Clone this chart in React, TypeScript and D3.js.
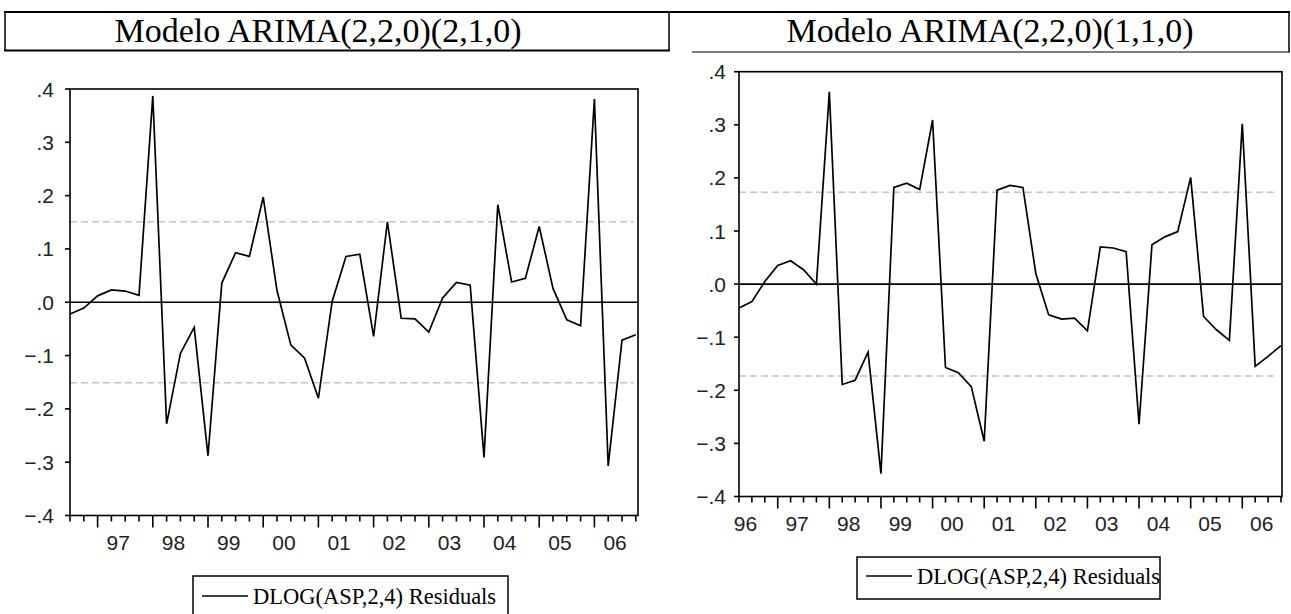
import React from "react";
import * as d3 from "d3";

// ---- data ----
const leftTitle = "Modelo ARIMA(2,2,0)(2,1,0)";
const rightTitle = "Modelo ARIMA(2,2,0)(1,1,0)";
const legendLabel = "DLOG(ASP,2,4) Residuals";

// quarterly residuals, left model starts 1996Q3
const leftStart = 1996.5;
const leftResiduals = [
  -0.022, -0.011, 0.012, 0.023, 0.021, 0.013, 0.387, -0.228, -0.096, -0.047,
  -0.288, 0.036, 0.093, 0.086, 0.197, 0.022, -0.08, -0.105, -0.18, 0.002,
  0.086, 0.09, -0.064, 0.151, -0.03, -0.031, -0.056, 0.008, 0.037, 0.032,
  -0.291, 0.183, 0.038, 0.045, 0.142, 0.026, -0.033, -0.044, 0.381, -0.307,
  -0.071, -0.061,
];
const leftBand = 0.151;

// right model starts 1996Q2
const rightStart = 1996.25;
const rightResiduals = [
  -0.045, -0.033, 0.005, 0.035, 0.044, 0.027, 0.0, 0.362, -0.189, -0.181,
  -0.128, -0.357, 0.182, 0.19, 0.178, 0.309, -0.157, -0.167, -0.193, -0.296,
  0.177, 0.186, 0.182, 0.02, -0.058, -0.066, -0.064, -0.088, 0.07, 0.068,
  0.061, -0.264, 0.074, 0.089, 0.099, 0.201, -0.061, -0.086, -0.106, 0.302,
  -0.155, -0.136, -0.116,
];
const rightBand = 0.173;

const yTickValues = [0.4, 0.3, 0.2, 0.1, 0.0, -0.1, -0.2, -0.3, -0.4];
const years = [1996, 1997, 1998, 1999, 2000, 2001, 2002, 2003, 2004, 2005, 2006];

const fmtY = (v: number) => {
  const s = d3.format(".1f")(v);
  return s.replace("0.", ".");
};
const fmtYear = (y: number) => String(y % 100).padStart(2, "0");

type ChartProps = {
  values: number[];
  start: number;
  band: number;
  left: number;
  lastX: number;
  right: number;
  top: number;
  bottom: number;
  labelGap: number;
  legendX: number;
  legendY: number;
  legendW: number;
  legendH: number;
  legendBaseline: number;
};

function Chart(p: ChartProps) {
  const n = p.values.length;
  const end = p.start + (n - 1) / 4;
  const x = d3.scaleLinear().domain([p.start, end]).range([p.left, p.lastX]);
  const y = d3.scaleLinear().domain([-0.4, 0.4]).range([p.bottom, p.top]);
  const line = d3
    .line<number>()
    .x((_, i) => x(p.start + i / 4))
    .y((d) => y(d));
  const quarters = d3.range(n).map((i) => p.start + i / 4);
  const axisFont = "'Liberation Sans', Arial, sans-serif";
  const serif = "'Liberation Serif', 'Times New Roman', serif";
  const sw = 1.6;
  return (
    <g>
      {[p.band, -p.band].map((b) => (
        <line
          key={b}
          x1={p.left}
          x2={p.right - 4}
          y1={y(b)}
          y2={y(b)}
          stroke="#c4c4c4"
          strokeWidth={1.5}
          strokeDasharray="7,4"
        />
      ))}
      <line x1={p.left} x2={p.right} y1={y(0)} y2={y(0)} stroke="#000" strokeWidth={sw} />
      <path d={line(p.values) || ""} fill="none" stroke="#000" strokeWidth={1.7} strokeLinejoin="miter" />
      <rect
        x={p.left}
        y={p.top}
        width={p.right - p.left}
        height={p.bottom - p.top}
        fill="none"
        stroke="#000"
        strokeWidth={sw}
      />
      {yTickValues.map((v) => (
        <g key={v}>
          <line x1={p.left - 5} x2={p.left} y1={y(v)} y2={y(v)} stroke="#000" strokeWidth={sw} />
          <text
            x={p.left - p.labelGap}
            y={y(v)}
            dy="0.36em"
            textAnchor="end"
            fontFamily={axisFont}
            fontSize={21}
            fill="#222"
          >
            {fmtY(v)}
          </text>
        </g>
      ))}
      {quarters.map((q, i) => {
        const major = Math.abs(q - Math.round(q)) < 1e-6;
        return (
          <line
            key={i}
            x1={x(q)}
            x2={x(q)}
            y1={p.bottom}
            y2={p.bottom + (major ? 12 : 6)}
            stroke="#000"
            strokeWidth={sw}
          />
        );
      })}
      {years
        .filter((yr) => x(yr + 0.375) >= p.left)
        .map((yr) => (
          <text
            key={yr}
            x={x(yr + 0.375)}
            y={p.bottom + 34}
            textAnchor="middle"
            fontFamily={axisFont}
            fontSize={21}
            fill="#222"
          >
            {fmtYear(yr)}
          </text>
        ))}
      <rect
        x={p.legendX}
        y={p.legendY}
        width={p.legendW}
        height={p.legendH}
        fill="#fff"
        stroke="#000"
        strokeWidth={1.5}
      />
      <line
        x1={p.legendX + 9}
        x2={p.legendX + 55}
        y1={p.legendBaseline - 8}
        y2={p.legendBaseline - 8}
        stroke="#000"
        strokeWidth={1.5}
      />
      <text
        x={p.legendX + 60}
        y={p.legendBaseline}
        fontFamily={serif}
        fontSize={22.5}
        fill="#000"
      >
        {legendLabel}
      </text>
    </g>
  );
}

export default function App() {
  const serif = "'Liberation Serif', 'Times New Roman', serif";
  return (
    <svg
      width={1291}
      height={614}
      style={{ position: "absolute", left: 0, top: 0, background: "#fff" }}
    >
      <rect width={1291} height={614} fill="#fff" />
      <line x1={4} x2={1290} y1={12} y2={12} stroke="#000" strokeWidth={2} />
      <line x1={5} x2={5} y1={12} y2={51} stroke="#000" strokeWidth={1.5} />
      <line x1={669} x2={669} y1={12} y2={51} stroke="#000" strokeWidth={1.5} />
      <line x1={1289} x2={1289} y1={12} y2={52} stroke="#000" strokeWidth={1.5} />
      <line x1={4} x2={670} y1={50.5} y2={50.5} stroke="#000" strokeWidth={2} />
      <line x1={692} x2={1290} y1={52} y2={52} stroke="#000" strokeWidth={1} />
      <text x={318} y={42} textAnchor="middle" fontFamily={serif} fontSize={34}>
        {leftTitle}
      </text>
      <text x={990} y={42} textAnchor="middle" fontFamily={serif} fontSize={34}>
        {rightTitle}
      </text>

      <Chart
        values={leftResiduals}
        start={leftStart}
        band={leftBand}
        left={70}
        lastX={635.8}
        right={638}
        top={89}
        bottom={515.5}
        labelGap={16}
        legendX={193}
        legendY={576}
        legendW={315}
        legendH={50}
        legendBaseline={604}
      />
      <Chart
        values={rightResiduals}
        start={rightStart}
        band={rightBand}
        left={739}
        lastX={1281}
        right={1282}
        top={71.7}
        bottom={496.5}
        labelGap={13}
        legendX={857}
        legendY={557}
        legendW={303}
        legendH={42}
        legendBaseline={584}
      />
    </svg>
  );
}
